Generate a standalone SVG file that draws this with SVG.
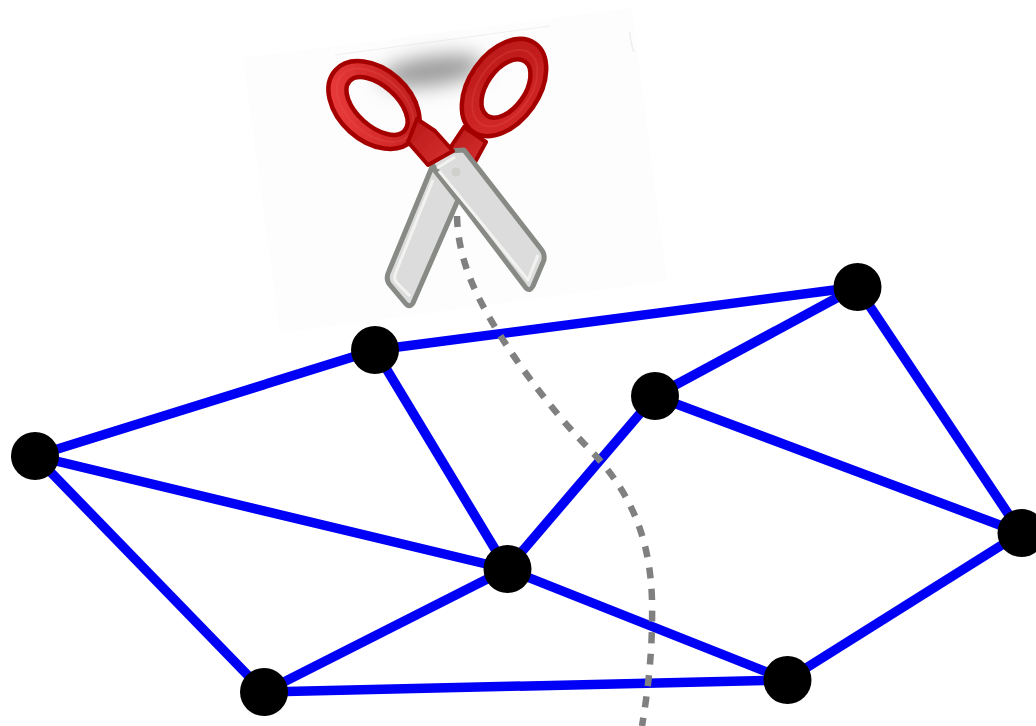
<svg xmlns="http://www.w3.org/2000/svg" width="1036" height="726" viewBox="0 0 1036 726">
  <style>
    .edge { stroke: #0000f6; stroke-width: 9.5; fill: none; }
    .node { fill: #000; }
    .cut { stroke: #808080; stroke-width: 6.5; stroke-dasharray: 11 10.5; fill: none; }
    .ring { fill-rule: evenodd; stroke: #a40000; stroke-width: 4.5; }
    .band { fill: none; stroke: #ee5a5a; stroke-opacity: .22; stroke-width: 2; }
    .grip { stroke: #a40000; stroke-width: 4; stroke-linejoin: round; }
    .blade { fill: #dcdcdc; stroke: #888a85; stroke-width: 5; stroke-linejoin: round; }
    .sheen { fill: none; stroke: #f2f2f0; stroke-width: 3; stroke-linejoin: round; }
  </style>
  <defs>
    <linearGradient id="leftRed" x1="0" y1="1" x2="1" y2="0">
      <stop offset="0" stop-color="#f04040"/>
      <stop offset=".55" stop-color="#d42a2a"/>
      <stop offset="1" stop-color="#b81a1a"/>
    </linearGradient>
    <linearGradient id="rightRed" x1="1" y1="0" x2="0" y2="1">
      <stop offset="0" stop-color="#b81818"/>
      <stop offset="1" stop-color="#d82a2a"/>
    </linearGradient>
    <linearGradient id="gripRed" x1="0" y1="0" x2="1" y2="1">
      <stop offset="0" stop-color="#b81818"/>
      <stop offset="1" stop-color="#d83030"/>
    </linearGradient>
    <filter id="soft" x="-60%" y="-150%" width="220%" height="400%"><feGaussianBlur stdDeviation="10"/></filter>
    <filter id="crisp" x="-5%" y="-5%" width="110%" height="110%"><feGaussianBlur stdDeviation="0.6"/></filter>
  </defs>

  <g id="scissors">
    <polygon points="243,58 632,8 667,281 280,333" fill="#fdfdfd"/>
    <path d="M335,55 L550,26" stroke="#f0f0f0" stroke-width="1" fill="none"/>
    <path d="M630,32 Q630,42 634,52" stroke="#eeeeee" stroke-width="1.500" fill="none"/>
    <ellipse cx="432" cy="71" rx="52" ry="14" transform="rotate(-8 432 71)" fill="#969696" filter="url(#soft)"/>
    <g filter="url(#crisp)">
      <!-- rear blade -->
      <path class="blade" d="M432,167 L458,200 L413,303 Q410,308 406,304 L390,285 Q385,279 389,271 Z"/>
      <path class="sheen" d="M433,180 L396,272 Q393,279 397,283 L410,296"/>
      <!-- right handle, under the blades -->
      <path class="grip" fill="url(#gripRed)" d="M464,127 L486,142 L474,164 L450,148 Z"/>
      <!-- front blade -->
      <path class="blade" d="M431,163 L449,151 L464,150 L541,249 Q545,254 544,260 L533,286 Q530,292 526,288 Z"/>
      <path class="sheen" d="M437,168 L455,157 M439,171 L528,280 L538,255"/>
      <circle cx="456" cy="172" r="4.500" fill="#cfcfcb"/>
      <!-- finger rings -->
      <g transform="translate(374 105) rotate(42)">
        <path class="ring" fill="url(#leftRed)" d="M-52,0 a52,36 0 1 0 104,0 a52,36 0 1 0 -104,0 Z M-34.100,-1.300 a37,20 0 1 0 74,0 a37,20 0 1 0 -74,0 Z"/>
        <ellipse class="band" cx="1" cy="-.6" rx="45" ry="28"/>
      </g>
      <g transform="translate(504 87.500) rotate(-55)">
        <path class="ring" fill="url(#rightRed)" d="M-54,0 a54,35 0 1 0 108,0 a54,35 0 1 0 -108,0 Z M-32.700,2.200 a33,19 0 1 0 66,0 a33,19 0 1 0 -66,0 Z"/>
        <ellipse class="band" cx="0" cy="1" rx="43" ry="26"/>
      </g>
      <!-- left handle, over the front blade -->
      <path class="grip" fill="url(#gripRed)" d="M417,119 L435,131 L453,151 L428,165 L408,142 Z"/>
    </g>
  </g>

  <g id="connectors">
    <path class="edge" d="M375,350 L857,287"/>
    <path class="edge" d="M35,456 L375,350"/>
    <path class="edge" d="M375,350 L507,569"/>
    <path class="edge" d="M35,456 L507,569"/>
    <path class="edge" d="M35,456 L264,692"/>
    <path class="edge" d="M264,692 L507,569"/>
    <path class="edge" d="M264,692 L787,680"/>
    <path class="edge" d="M507,569 L787,680"/>
    <path class="edge" d="M507,569 L655,396"/>
    <path class="edge" d="M655,396 L857,287"/>
    <path class="edge" d="M655,396 L1021,533"/>
    <path class="edge" d="M857,287 L1021,533"/>
    <path class="edge" d="M787,680 L1021,533"/>
    <path class="cut" d="M457,216 C458,262 478,300 500,335 C525,375 560,420 595,455 C625,488 650,530 652,600 C653,650 648,690 642,726"/>
  </g>

  <g id="n1"><circle class="node" cx="35" cy="456" r="24"/></g>
  <g id="n2"><circle class="node" cx="375" cy="350" r="24"/></g>
  <g id="n3"><circle class="node" cx="857.500" cy="287" r="24"/></g>
  <g id="n4"><circle class="node" cx="655" cy="396" r="24"/></g>
  <g id="n5"><circle class="node" cx="507.500" cy="569" r="24"/></g>
  <g id="n6"><circle class="node" cx="1021.500" cy="533" r="24"/></g>
  <g id="n7"><circle class="node" cx="264" cy="692" r="24"/></g>
  <g id="n8"><circle class="node" cx="787.500" cy="680" r="24"/></g>
</svg>
